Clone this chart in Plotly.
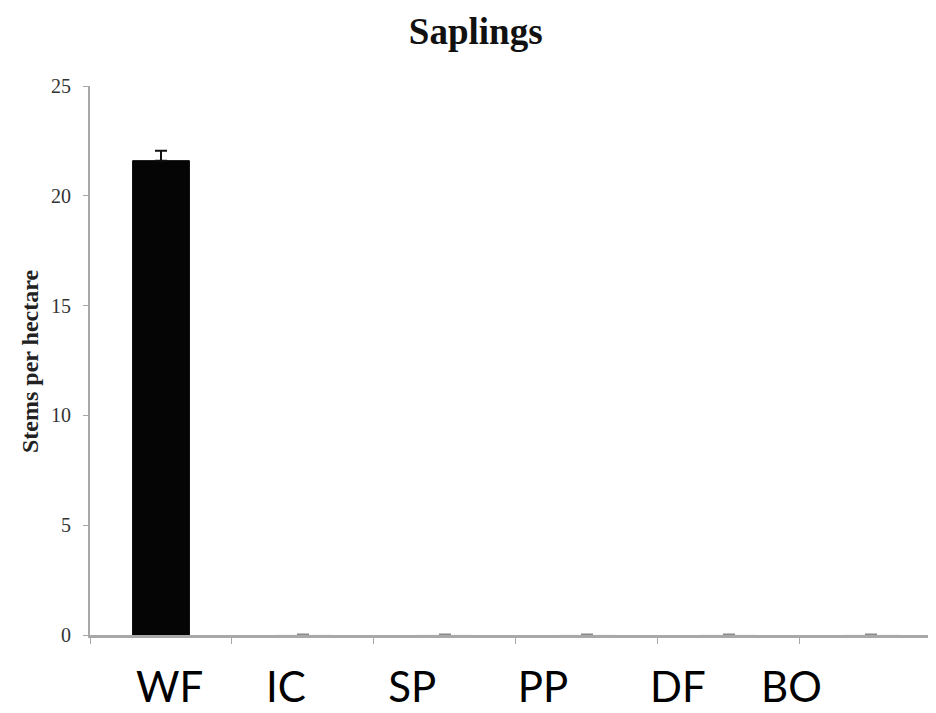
import plotly.graph_objects as go

# ---- data ----
categories = ["WF", "IC", "SP", "PP", "DF", "BO"]
stems_per_hectare = [21.6, 0, 0, 0, 0, 0]
std_error = [0.45, 0, 0, 0, 0, 0]
big_labels = ["WF", "IC", "SP", "PP", "DF", "BO"]
y_ticks = [0, 5, 10, 15, 20, 25]
y_title = "Stems per hectare"

# label placement (in category units) - layout only
label_pos = [0.06, 0.88, 1.77, 2.69, 3.64, 4.44]

nonzero = [v > 0 for v in stems_per_hectare]

fig = go.Figure()
fig.add_trace(go.Bar(
    x=[c for c, n in zip(categories, nonzero) if n],
    y=[v for v, n in zip(stems_per_hectare, nonzero) if n],
    error_y=dict(type="data", symmetric=False,
                 array=[e for e, n in zip(std_error, nonzero) if n],
                 arrayminus=[0 for n in nonzero if n],
                 color="#111111", thickness=2, width=6),
    marker=dict(color="#050505", line=dict(color="#050505", width=1)),
    width=0.4, showlegend=False,
))
fig.add_trace(go.Bar(
    x=[c for c, n in zip(categories, nonzero) if not n],
    y=[v for v, n in zip(stems_per_hectare, nonzero) if not n],
    error_y=dict(type="data", array=[e for e, n in zip(std_error, nonzero) if not n],
                 color="#8a8a8a", thickness=3, width=6),
    marker=dict(color="#050505"),
    width=0.4, showlegend=False,
))
# invisible trace to activate label axis
fig.add_trace(go.Scatter(x=label_pos, y=[0]*len(label_pos), xaxis="x2",
                         mode="markers", marker=dict(opacity=0), showlegend=False,
                         hoverinfo="skip"))

# the page has an 8px body margin, so the figure is sized/offset to compensate
fig.update_layout(
    width=928, height=705,
    margin=dict(l=82, r=0, t=78, b=78),
    paper_bgcolor="white", plot_bgcolor="white",
    barmode="overlay",
    title=dict(text="<b>Saplings</b>", x=0.504, xanchor="center", y=0.967, yanchor="middle",
               font=dict(family="Liberation Serif", size=37, color="#111111")),
    xaxis=dict(type="category", categoryarray=categories, range=[-0.5, 5.458],
               showline=True, linecolor="#a8a8a8", linewidth=3,
               ticks="outside", tickson="boundaries", ticklen=6, tickcolor="#a8a8a8", tickwidth=1,
               showticklabels=False, showgrid=False, zeroline=False, automargin=False),
    xaxis2=dict(overlaying="x", anchor="y", side="bottom", range=[-0.5, 5.458],
                tickvals=label_pos, ticktext=big_labels, showline=False, showgrid=False,
                zeroline=False, ticks="outside", ticklen=16, tickcolor="rgba(0,0,0,0)",
                automargin=False,
                tickfont=dict(family="Lato", size=42, color="#000000")),
    yaxis=dict(range=[0, 25], tickvals=y_ticks, showline=True, linecolor="#a8a8a8", linewidth=2,
               ticks="outside", ticklen=5, tickcolor="#a8a8a8", showgrid=False, zeroline=False,
               automargin=False, ticklabelstandoff=8,
               tickfont=dict(family="Liberation Serif", size=20, color="#333333")),
)

fig.add_annotation(text="<b>" + y_title + "</b>", textangle=-90,
                   xref="paper", x=-0.071, xanchor="center",
                   yref="paper", y=0.499, yanchor="middle", showarrow=False,
                   font=dict(family="Liberation Serif", size=24, color="#222222"))

fig.write_html("out.html")
